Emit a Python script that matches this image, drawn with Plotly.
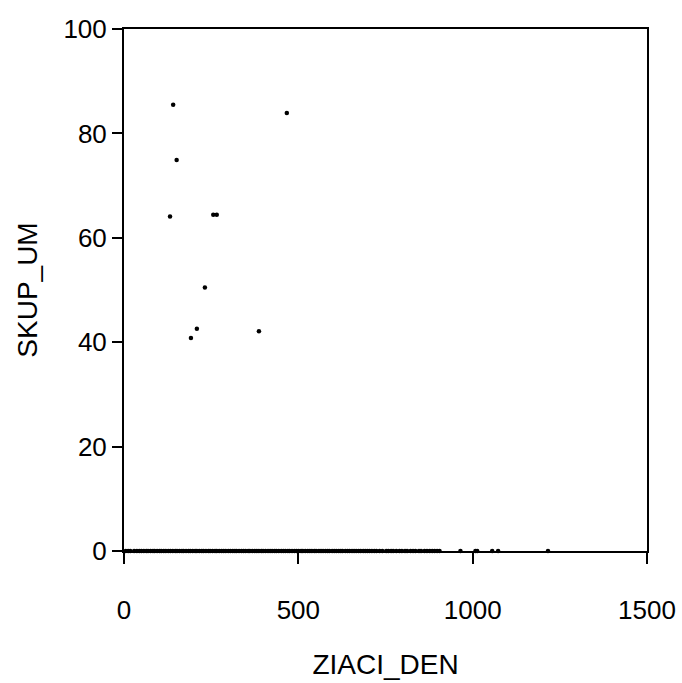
import plotly.graph_objects as go

# Points with non-zero SKUP_UM
ziaci_hi = [141, 467, 151, 132, 256, 266, 232, 209, 192, 387]
skup_hi = [85.5, 83.9, 74.9, 64.1, 64.4, 64.4, 50.5, 42.6, 40.8, 42.1]

# Points with SKUP_UM = 0 (read along the bottom)
ziaci_zero = [5, 12, 18, 29, 37, 44, 50, 57, 64, 69, 76, 83, 88, 95, 102, 107, 114, 120,
              127, 133, 140, 147, 152, 159, 166, 171, 178, 185, 190, 197, 204, 209, 216,
              223, 228, 235, 242, 247, 254, 261, 266, 273, 280, 286, 292, 299, 305, 312,
              318, 323, 330, 337, 343, 349, 356, 361, 368, 375, 381, 387, 394, 399, 406,
              413, 419, 425, 432, 437, 444, 451, 457, 463, 470, 475, 482, 489, 495, 501,
              508, 513, 520, 527, 533, 539, 546, 551, 559, 565, 571, 578, 584, 589, 597,
              603, 609, 616, 622, 627, 635, 641, 647, 654, 660, 666, 673, 679, 686, 692,
              698, 704, 711, 718, 724, 733, 741, 752, 758, 766, 772, 781, 790, 797, 806,
              812, 822, 829, 836, 846, 852, 862, 869, 877, 884, 891, 898, 905,
              965, 1008, 1013, 1056, 1073, 1216]
skup_zero = [0] * len(ziaci_zero)

x_ticks = [0, 500, 1000, 1500]
y_ticks = [0, 20, 40, 60, 80, 100]

fig = go.Figure()
fig.add_trace(go.Scatter(
    x=ziaci_zero + ziaci_hi,
    y=skup_zero + skup_hi,
    mode="markers",
    marker=dict(color="black", size=4.5),
    cliponaxis=False,
    showlegend=False,
))

tick_font = dict(family="Liberation Sans, Arial, sans-serif", size=26, color="black")
title_font = dict(family="Liberation Sans, Arial, sans-serif", size=28, color="black")

fig.update_layout(
    width=682, height=683,
    margin=dict(l=124, r=35, t=29, b=132),
    paper_bgcolor="white", plot_bgcolor="white",
    font=tick_font,
)
fig.update_xaxes(
    range=[0, 1500], tickvals=x_ticks, ticktext=[str(v) for v in x_ticks],
    tickfont=tick_font, ticklabelstandoff=24, automargin=False,
    showgrid=False, zeroline=False, showline=True, linecolor="black", linewidth=2,
    mirror=True, ticks="outside", ticklen=11, tickwidth=2, tickcolor="black",
    title=dict(text="ZIACI_DEN", standoff=30, font=title_font),
)
fig.update_yaxes(
    range=[0, 100], tickvals=y_ticks, ticktext=[str(v) for v in y_ticks],
    tickfont=tick_font, automargin=False,
    showgrid=False, zeroline=False, showline=True, linecolor="black", linewidth=2,
    mirror=True, ticks="outside", ticklen=10, tickwidth=2, tickcolor="black",
    title=dict(text="SKUP_UM", standoff=18, font=title_font),
)

fig.write_html("out.html")
